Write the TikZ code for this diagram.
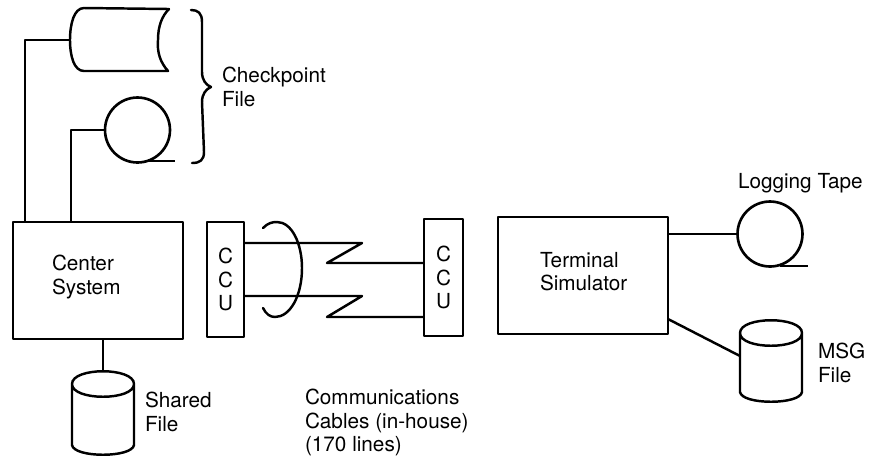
\documentclass[tikz,border=0pt]{standalone}
\usepackage{fontspec}
\setmainfont{TeX Gyre Heros}
\usetikzlibrary{
	positioning
}
\tikzset{
	hwbox/.style={draw, line width=1.5pt, inner sep=0pt, outer sep=0pt, align=center},
	tapereel/.style={draw, circle, line width=1.5pt, inner sep=0pt, outer sep=0pt, minimum size=1.3cm},
	wire/.style={line width=1.4pt},
	lbl/.style={inner sep=0pt, outer sep=0pt, anchor=north west, align=left}
}
% box from its name, centre, width and height (in picture units)
\newcommand{\hwblock}[6]{%
	\node[hwbox, minimum width=#4*0.02cm, minimum height=#5*0.02cm] (#1) at (#2,#3) {#6};
}
% disk pack, standing up
\newcommand{\diskpack}[4]{%
	\coordinate (#1) at (#2,#3);
	\draw[wire, line cap=round]
	({#2-31},{#3+13}) .. controls ({#2-31},{#3-4}) and ({#2+31},{#3-4}) .. ({#2+31},{#3+13})
	.. controls ({#2+31},{#3+30}) and ({#2-31},{#3+30}) .. ({#2-31},{#3+13})
	-- ({#2-31},{#3+#4-10})
	.. controls ({#2-29},{#3+#4+3}) and ({#2+29},{#3+#4+3}) .. ({#2+31},{#3+#4-10})
	-- ({#2+31},{#3+13});
}
\begin{document}
\begin{tikzpicture}[x=0.02cm, y=-0.02cm, font=\fontsize{11.8}{13.5}\selectfont, line join=round]
	\useasboundingbox (0,0) rectangle (872,458);

	% -- Center side ----------------------------------------------
	\hwblock{centersys}{98}{280.5}{170}{117}{}
	\node[lbl] (centerlbl) at (52,255) {Center\\System};

	% Checkpoint drum on its side
	\draw[wire, line cap=round]
	(169,9) -- (84,8)
	.. controls (74,8) and (70,24) .. (70,40)
	.. controls (70,56) and (74,71) .. (84,71)
	-- (168,71)
	.. controls (160,62) and (157,52) .. (158,40)
	.. controls (158,26) and (162,16) .. (169,9);
	\coordinate (drumW) at (70,40);
	\coordinate (centerA) at (25,222);
	\draw[wire] (drumW) -| (centerA);

	% Checkpoint tape
	\node[tapereel] (tapeA) at (137.5,130) {};
	\coordinate (tapeAend) at (175,161);
	\coordinate (centerB) at (71,222);
	\draw[wire] (tapeA.west) -| (centerB);
	\draw[wire] (148,161) -- (tapeAend);

	% brace
	\draw[wire, line cap=round]
	(191,10) .. controls (198,10) and (202,13) .. (202,22)
	-- (202,72) .. controls (202,80) and (206,85) .. (211,87)
	.. controls (206,89) and (202,94) .. (202,102)
	-- (204,152) .. controls (204,160) and (200,163) .. (192,163);
	\node[lbl] (checkptlbl) at (222,67) {Checkpoint\\File};

	% Shared file
	\diskpack{shared}{103}{371}{84}
	\draw[wire] (centersys.south -| shared) -- (shared);
	\node[lbl] (sharedlbl) at (145,392) {Shared\\File};

	% -- Cables ---------------------------------------------------
	\hwblock{ccuL}{225.5}{279.5}{37}{115}{C\\C\\U}
	\hwblock{ccuR}{443.5}{277.5}{39}{117}{C\\C\\U}

	\coordinate (zigAa) at (362,243);
	\coordinate (zigAb) at (327,263);
	\coordinate (zigBa) at (362,296);
	\coordinate (zigBb) at (327,317);
	\draw[wire] (ccuL.east |- zigAa) -- (zigAa) -- (zigAb) -- (ccuR.west |- zigAb);
	\draw[wire] (ccuL.east |- zigBa) -- (zigBa) -- (zigBb) -- (ccuR.west |- zigBb);

	% bundle mark
	\draw[wire, line cap=round]
	(263,228) .. controls (268,223) and (272,222) .. (277,222)
	.. controls (292,222) and (302,244) .. (302,268)
	.. controls (302,296) and (290,317) .. (275,317)
	.. controls (270,317) and (266,314) .. (263,308);
	\node[lbl] (cablelbl) at (305,389) {Communications\\Cables (in-house)\\(170 lines)};

	% -- Simulator side -------------------------------------------
	\hwblock{termsim}{583}{275.5}{170}{117}{}
	\node[lbl] (termlbl) at (540,252) {Terminal\\Simulator};

	\node[tapereel] (tapeB) at (770,234) {};
	\coordinate (tapeBend) at (808,266);
	\draw[wire] (termsim.east |- tapeB) -- (tapeB.west);
	\draw[wire] (780,266) -- (tapeBend);
	\node[lbl] (logginglbl) at (738,173) {Logging Tape};

	\diskpack{msg}{771}{320}{82}
	\coordinate (msgW) at (740,356);
	\coordinate (termC) at (668,319);
	\draw[wire] (termC) -- (msgW);
	\node[lbl] (msglbl) at (818,343) {MSG\\File};
\end{tikzpicture}
\end{document}
